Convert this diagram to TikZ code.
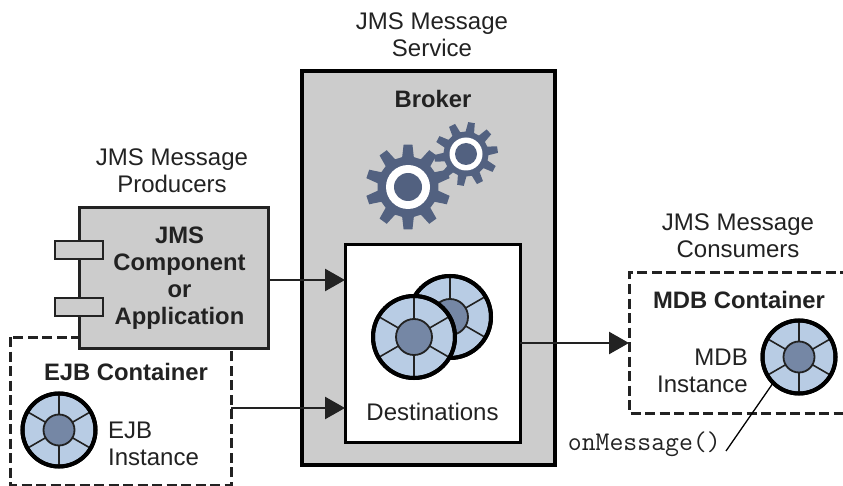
\documentclass[tikz,border=0pt]{standalone}
\usepackage{fontspec}
\setmainfont{Liberation Sans}
\usetikzlibrary{arrows.meta,calc}
\definecolor{ink}{HTML}{222222}
\definecolor{panel}{HTML}{CCCCCC}
\definecolor{gearblue}{HTML}{526180}
\definecolor{wheelblue}{HTML}{B8CCE4}
\definecolor{hubblue}{HTML}{7587A5}
\tikzset{
  txt/.style={inner sep=0pt,align=center,text=ink,font=\fontsize{24}{27}\selectfont},
  btxt/.style={txt,font=\fontsize{23.8}{27}\selectfont\bfseries},
  codetxt/.style={inner sep=0pt,text=ink,font=\fontsize{27}{27}\selectfont\ttfamily},
  solidbox/.style={draw=black,inner sep=0pt,outer sep=0pt,anchor=north west},
  dashbox/.style={draw=ink,line width=3pt,dash pattern=on 10pt off 4.5pt,fill=white},
  flow/.style={draw=ink,line width=2.5pt,-{Triangle[length=20pt,width=22pt]}},
}
\newcommand{\jmswheel}[6]{% name,x,y,R,r,outer lw
  \node[circle,draw=black,line width=#6,fill=wheelblue,inner sep=0pt,outer sep=0pt,minimum size=#4*2pt] (#1) at (#2,#3) {};
  \foreach \a in {30,90,...,330}
    \draw[ink,line width=1.6pt] ($(#2,#3)+(\a:#4pt)$) -- (#2,#3);
  \draw[black,line width=#6] (#2,#3) circle[radius=#4pt];
  \fill[hubblue,draw=ink,line width=1.8pt] (#2,#3) circle[radius=#5pt];
}
\newcommand{\jmsgear}[5]{% x,y,root,tip,rot
  \fill[gearblue] \foreach \i in {0,...,9}{
    \ifnum\i=0 ($(#1,#2)+({#5-11}:#3pt)$) \else -- ($(#1,#2)+({#5+\i*36-11}:#3pt)$) \fi
    -- ($(#1,#2)+({#5+\i*36-6}:#4pt)$)
    -- ($(#1,#2)+({#5+\i*36+6}:#4pt)$)
    -- ($(#1,#2)+({#5+\i*36+11}:#3pt)$)
  } -- cycle;
}
\begin{document}
\begin{tikzpicture}[x=1pt,y=-1pt]
\useasboundingbox (0,0) rectangle (843,486);
% broker
\node[solidbox,line width=4pt,fill=panel,minimum width=253pt,minimum height=394pt] (broker) at (302,71) {};
\node[btxt] (brokerlabel) at (433,99) {Broker};
\jmsgear{466}{154}{22.5}{32}{8}
\fill[white] (466,154) circle[radius=16.5pt];
\fill[gearblue] (466,154) circle[radius=11pt];
\jmsgear{408}{187}{30.5}{42.5}{18}
\fill[white] (408,187) circle[radius=22pt];
\fill[gearblue] (408,187) circle[radius=14pt];
% destinations
\node[solidbox,line width=3pt,fill=white,minimum width=175pt,minimum height=197pt] (dest) at (345,245) {};
\jmswheel{destback}{450}{317}{41}{18}{4pt}
\jmswheel{destfront}{414}{337}{41}{18}{4pt}
\node[txt] (destlabel) at (432.5,412) {Destinations};
% EJB container
\draw[dashbox] (10,337) rectangle (231,485);
\coordinate (ejbout) at (231,408);
\node[btxt] (ejblabel) at (126,372) {EJB Container};
\jmswheel{ejbwheel}{59}{430}{36.5}{15.5}{4pt}
\node[txt,align=left,anchor=west] (ejbtext) at (108,444) {EJB\\Instance};
% component
\node[solidbox,draw=ink,line width=3pt,fill=panel,minimum width=189pt,minimum height=140pt] (comp) at (79,208) {};
\node[solidbox,draw=ink,line width=2.5pt,fill=panel,minimum width=48pt,minimum height=18pt] (portone) at (55,241) {};
\node[solidbox,draw=ink,line width=2.5pt,fill=panel,minimum width=48pt,minimum height=18pt] (porttwo) at (55,298) {};
\node[btxt] (complabel) at (179.5,278.5) {JMS\\Component\\or\\Application};
\node[txt] (prodlabel) at (172,171) {JMS Message\\Producers};
\node[txt] (servlabel) at (432,34.5) {JMS Message\\Service};
\node[txt] (conslabel) at (738,236) {JMS Message\\Consumers};
% MDB container
\draw[dashbox] (850,273) -- (629,273) -- (629,413) -- (850,413);
\coordinate (mdbin) at (629,343);
\node[btxt] (mdblabel) at (739,300) {MDB Container};
\jmswheel{mdbwheel}{799}{357}{36.5}{15.5}{4pt}
\node[txt,align=right,anchor=east] (mdbtext) at (748,371) {MDB\\Instance};
\node[codetxt,anchor=east] (onmsg) at (721,444) {onMessage()};
\coordinate (leaderend) at (726,451);
\draw[black,line width=1.3pt] (mdbwheel.225) -- (leaderend);
% connectors
\draw[flow] (comp.east |- 0,280) -- (dest.west |- 0,280);
\draw[flow] (ejbout) -- (dest.west |- ejbout);
\draw[flow] (dest.east |- mdbin) -- (mdbin);
\end{tikzpicture}
\end{document}
